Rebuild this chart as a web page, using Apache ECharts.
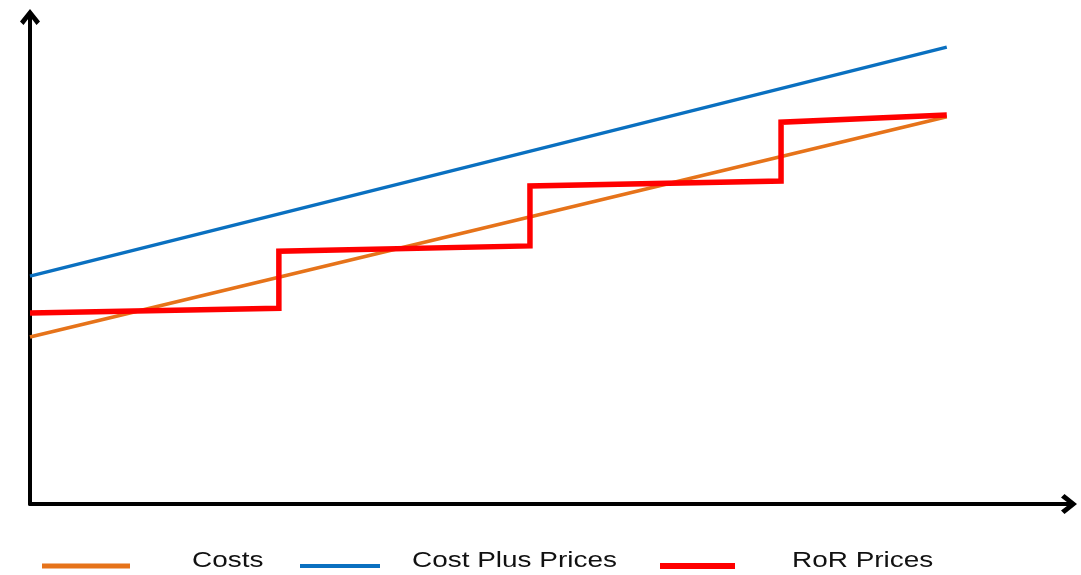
<!DOCTYPE html>
<html>
<head>
<meta charset="utf-8">
<script src="https://cdn.jsdelivr.net/npm/echarts@6/dist/echarts.min.js"></script>
<style>
  html, body { margin: 0; padding: 0; background: #ffffff; }
  #chart { width: 1081px; height: 575px; }
</style>
</head>
<body>
<div id="chart"></div>
<script>
// Time runs along x (periods), price level along y (arbitrary units)
const seriesNames = ['Costs', 'Cost Plus Prices', 'RoR Prices'];

// Costs rise steadily
const costs = [[0, 34.3], [3.706, 79.5]];
// Cost-plus prices track costs with a markup
const costPlus = [[0, 46.8], [3.706, 93.8]];
// Rate-of-return prices reset at each review, then stay nearly flat
const rorPrices = [
  [0, 39.2], [1.006, 40.2],
  [1.006, 51.9], [2.021, 53.0],
  [2.021, 65.3], [3.036, 66.3],
  [3.036, 78.4], [3.706, 79.9]
];

const colors = ['#E6731A', '#0A70C0', '#FF0000'];
const widths = [3.6, 3.3, 5.5];

// open chevron used as the axis arrow head (points up before rotation)
const chevron = 'path://M10,0 L20,12.5 L16.5,16 L10,7.5 L3.5,16 L0,12.5 Z';

const axisLine = {
  show: true,
  symbol: ['none', chevron],
  symbolSize: [20, 16],
  lineStyle: { color: '#000000', width: 4 }
};

// key below the plot: a coloured bar followed by the series name
const keyLayout = [
  { barX: 42, barW: 88, barH: 5, textX: 192 },
  { barX: 300, barW: 80, barH: 4, textX: 412 },
  { barX: 660, barW: 75, barH: 6, textX: 792 }
];
const keyBarY = 566;
const keyTextY = 561;

const keyGraphics = [];
keyLayout.forEach((k, i) => {
  keyGraphics.push({
    type: 'rect',
    shape: { x: k.barX, y: keyBarY - k.barH / 2, width: k.barW, height: k.barH },
    style: { fill: colors[i] },
    silent: true
  });
  keyGraphics.push({
    type: 'text',
    x: k.textX,
    y: keyTextY,
    scaleX: 1.27,
    style: {
      text: seriesNames[i],
      font: '22px "Liberation Sans", Arial, sans-serif',
      fill: '#111111',
      align: 'left',
      verticalAlign: 'middle'
    },
    silent: true
  });
});

const chart = echarts.init(document.getElementById('chart'), null, { renderer: 'canvas' });
chart.setOption({
  animation: false,
  backgroundColor: '#ffffff',
  grid: { left: 30, right: 12, top: 17, bottom: 71, containLabel: false },
  xAxis: {
    type: 'value', min: 0, max: 4.2,
    axisLine: axisLine,
    axisTick: { show: false },
    axisLabel: { show: false },
    splitLine: { show: false }
  },
  yAxis: {
    type: 'value', min: 0, max: 100,
    axisLine: axisLine,
    axisTick: { show: false },
    axisLabel: { show: false },
    splitLine: { show: false }
  },
  graphic: keyGraphics,
  series: [
    { name: seriesNames[0], data: costs },
    { name: seriesNames[1], data: costPlus },
    { name: seriesNames[2], data: rorPrices }
  ].map((s, i) => Object.assign({
    type: 'line',
    showSymbol: false,
    symbol: 'none',
    color: colors[i],
    lineStyle: { color: colors[i], width: widths[i], join: 'miter', cap: 'butt' },
    emphasis: { disabled: true },
    z: 2 + i
  }, s))
});
</script>
</body>
</html>
